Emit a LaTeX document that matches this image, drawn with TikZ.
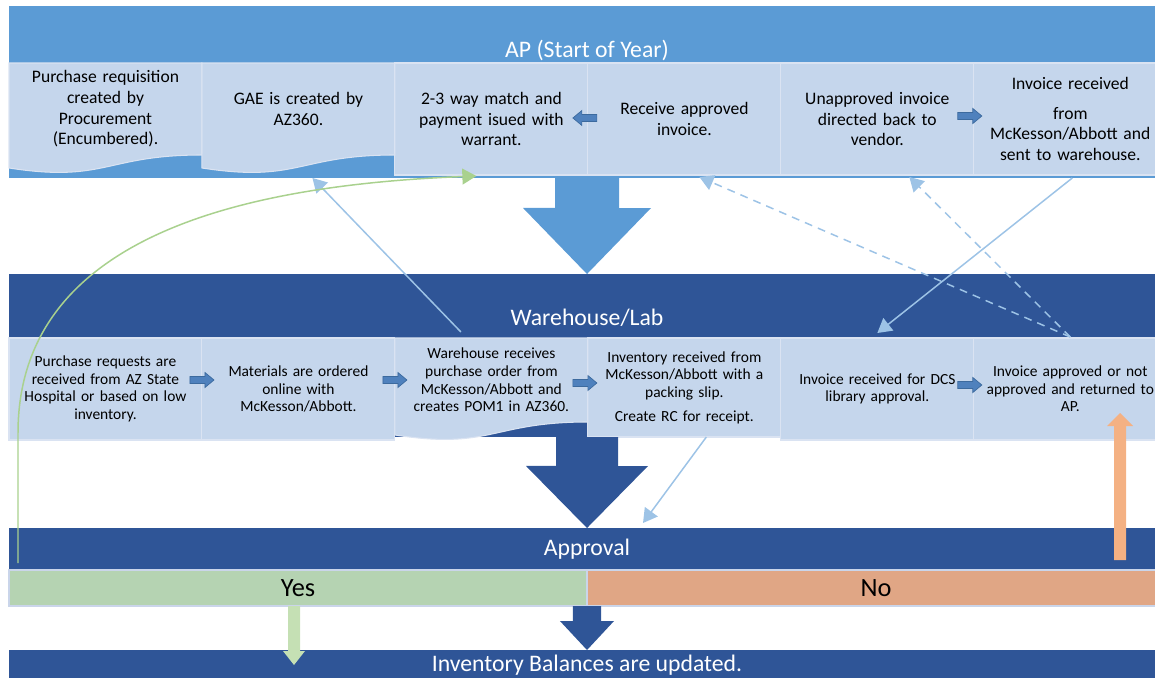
\documentclass[tikz,border=0pt]{standalone}
\usepackage{fontspec}
\setmainfont{Carlito}
\usetikzlibrary{positioning,calc,arrows.meta}

\definecolor{apblue}{HTML}{5B9BD5}
\definecolor{whblue}{HTML}{2F5597}
\definecolor{cellblue}{HTML}{C5D6EC}
\definecolor{cellline}{HTML}{DAE3F2}
\definecolor{rowline}{HTML}{CAD5EA}
\definecolor{linkblue}{HTML}{9DC3E6}
\definecolor{curvegreen}{HTML}{A9D18E}
\definecolor{yesgreen}{HTML}{B5D3B2}
\definecolor{yesarrow}{HTML}{C5E0B4}
\definecolor{nosalmon}{HTML}{E0A685}
\definecolor{backorange}{HTML}{F4B183}
\definecolor{stepfill}{HTML}{4F81BD}
\definecolor{stepline}{HTML}{3C6A9E}

\begin{document}
\begin{tikzpicture}[x=0.02cm,y=-0.02cm]
	\tikzstyle{band}=[rectangle, inner sep=0pt, outer sep=0pt, minimum width=23.12cm, text=white, font=\fontsize{13.5}{16}\selectfont]
	\tikzstyle{title}=[inner sep=0pt, text=white, font=\fontsize{13.5}{16}\selectfont]
	\tikzstyle{answer}=[rectangle, draw=rowline, line width=1pt, inner sep=0pt, outer sep=0pt, minimum width=11.56cm, minimum height=0.72cm, font=\fontsize{15}{18}\selectfont]
	\tikzstyle{cell}=[rectangle, fill=cellblue, draw=cellline, line width=0.6pt, inner sep=0pt, outer sep=0pt, minimum width=3.86cm, text width=3.7cm, align=center, anchor=north west]
	\tikzstyle{topcell}=[cell, minimum height=2.24cm, font=\fontsize{10}{11.8}\selectfont]
	\tikzstyle{doccell}=[topcell, draw=none, minimum height=1.84cm]
	\tikzstyle{whcell}=[cell, minimum height=2.04cm, font=\fontsize{8.8}{10}\selectfont]
	\tikzstyle{link}=[-{Triangle[length=8pt,width=9pt]}, draw=linkblue, line width=0.85pt]
	\tikzstyle{dashlink}=[link, dash pattern=on 4.5pt off 3.5pt]
	\tikzset{steparrow/.pic={\filldraw[fill=stepfill, draw=stepline, line width=0.4pt] (-12,-3.5) -- (3,-3.5) -- (3,-7.5) -- (12,0) -- (3,7.5) -- (3,3.5) -- (-12,3.5) -- cycle;}}
	\useasboundingbox (0,0) rectangle (1155,677);
	\clip (0,0) rectangle (1155,677);

	% bands
	\node[band, fill=apblue, minimum height=3.44cm] (ap) at (587,92) {};
	\node[title] (aptitle) at (587,50) {AP (Start of Year)};
	\node[band, fill=whblue, minimum height=3.26cm] (wh) at (587,355.5) {};
	\node[title] (whtitle) at (587,318) {Warehouse/Lab};
	\node[band, fill=whblue, minimum height=0.84cm] (appr) at (587,549) {Approval};
	\node[answer, fill=yesgreen] (yes) at (298,588) {Yes};
	\node[answer, fill=nosalmon] (no) at (876,588) {No};
	\node[band, fill=whblue, minimum height=0.6cm] (inv) at (587,665) {Inventory Balances are updated.};

	% AP row
	\node[doccell] (a1) at (9,63) {Purchase requisition\\ created by\\ Procurement\\ (Encumbered).};
	\node[doccell, right=0pt of a1.north east, anchor=north west] (a2) {GAE is created by\\ AZ360.};
	\node[topcell, right=0pt of a2.north east, anchor=north west] (a3) {2-3 way match and\\ payment isued with\\ warrant.};
	\node[topcell, right=0pt of a3.north east, anchor=north west] (a4) {Receive approved\\ invoice.};
	\node[topcell, right=0pt of a4.north east, anchor=north west] (a5) {Unapproved invoice\\ directed back to\\ vendor.};
	\node[topcell, right=0pt of a5.north east, anchor=north west] (a6) {Invoice received\\[5pt] from\\ McKesson/Abbott and\\ sent to warehouse.};

	% warehouse row
	\node[whcell] (w1) at (9,338) {Purchase requests are\\ received from AZ State\\ Hospital or based on low\\ inventory.};
	\node[whcell, right=0pt of w1.north east, anchor=north west] (w2) {Materials are ordered\\ online with\\ McKesson/Abbott.};
	\node[whcell, draw=none, minimum height=1.68cm, right=0pt of w2.north east, anchor=north west] (w3) {Warehouse receives\\ purchase order from\\ McKesson/Abbott and\\ creates POM1 in AZ360.};
	\node[whcell, minimum height=1.98cm, right=0pt of w3.north east, anchor=north west] (w4) {Inventory received from\\ McKesson/Abbott with a\\ packing slip.\\[3.6pt] Create RC for receipt.};
	\node[whcell, right=0pt of w4.north east, anchor=north west] (w5) {Invoice received for DCS\\ library approval.};
	\node[whcell, right=0pt of w5.north east, anchor=north west] (w6) {Invoice approved or not\\ approved and returned to\\ AP.};

	% wavy bottoms
	\fill[cellblue] ($(a1.south east)+(0,-1)$) -- (a1.south east) .. controls (a1.south) and ($(a1.south)+(0,28)$) .. ($(a1.south west)+(0,13)$) -- ($(a1.south west)+(0,-1)$) -- cycle;
	\draw[cellline, line width=0.6pt] (a1.south west) -- (a1.north west) -- (a1.north east) -- (a1.south east) .. controls (a1.south) and ($(a1.south)+(0,28)$) .. ($(a1.south west)+(0,13)$) -- cycle;
	\fill[cellblue] ($(a2.south east)+(0,-1)$) -- (a2.south east) .. controls (a2.south) and ($(a2.south)+(0,28)$) .. ($(a2.south west)+(0,13)$) -- ($(a2.south west)+(0,-1)$) -- cycle;
	\draw[cellline, line width=0.6pt] (a2.south west) -- (a2.north west) -- (a2.north east) -- (a2.south east) .. controls (a2.south) and ($(a2.south)+(0,28)$) .. ($(a2.south west)+(0,13)$) -- cycle;
	\fill[cellblue] ($(w3.south east)+(0,-1)$) -- (w3.south east) .. controls (w3.south) and ($(w3.south)+(0,28)$) .. ($(w3.south west)+(0,13)$) -- ($(w3.south west)+(0,-1)$) -- cycle;
	\draw[cellline, line width=0.6pt] (w3.south west) -- (w3.north west) -- (w3.north east) -- (w3.south east) .. controls (w3.south) and ($(w3.south)+(0,28)$) .. ($(w3.south west)+(0,13)$) -- cycle;

	% steps inside rows
	\path ($(a3.east)+(-3,-1)$) pic[rotate=180] {steparrow};
	\path ($(a5.east)+(-4,-3)$) pic {steparrow};
	\path ($(w1.east)+(0,-9)$) pic {steparrow};
	\path ($(w2.east)+(0,-9)$) pic {steparrow};
	\path ($(w3.east)+(-3,3)$) pic {steparrow};
	\path ($(w5.east)+(-4,-4)$) pic {steparrow};

	% big arrows
	\fill[apblue] (ap.south) ++(-32,0) -- ++(0,30) -- ++(-32,0) -- (wh.north) -- ++(64,-66) -- ++(-32,0) -- ++(0,-30) -- cycle;
	\fill[whblue] (wh.south) ++(-31,0) -- ++(0,29) -- ++(-30,0) -- (appr.north) -- ++(61,-62) -- ++(-30,0) -- ++(0,-29) -- cycle;
	\fill[whblue] (yes.south east) ++(-14,0) -- ++(0,15) -- ++(-13,0) -- (inv.north) -- ++(27,-29) -- ++(-13,0) -- ++(0,-15) -- cycle;
	\fill[yesarrow] ($(yes.south)+(-4,0)$) ++(-6,0) -- ++(0,45) -- ++(-5,0) -- ++(11,14) -- ++(11,-14) -- ++(-5,0) -- ++(0,-45) -- cycle;
	\coordinate (noup) at (1120,560);
	\fill[backorange] (noup) ++(-6,0) -- ++(0,-134) -- ++(-7,0) -- ++(13,-13) -- ++(13,13) -- ++(-7,0) -- ++(0,134) -- cycle;

	% links
	\draw[link] ($(w3.north west)+(66,-6)$) -- ($(a2.south)+(14,23)$);
	\draw[link] ($(a6.south)+(2,3)$) -- ($(w5.north)+(0,-5)$);
	\draw[dashlink] ($(w6.north)+(0,-1)$) -- ($(a4.south)+(15,2)$);
	\draw[dashlink] ($(w6.north)+(0,-1)$) -- ($(a5.south)+(32,2)$);
	\draw[link] ($(w4.south)+(22,0)$) -- ($(appr.north)+(56,-5)$);
	\coordinate (gstart) at (18,563);
	\draw[link, draw=curvegreen] (gstart) -- ++(0,-130) .. controls +(0,-200) and (250,185) .. ($(a3.south)+(-15,1)$);

\end{tikzpicture}
\end{document}
